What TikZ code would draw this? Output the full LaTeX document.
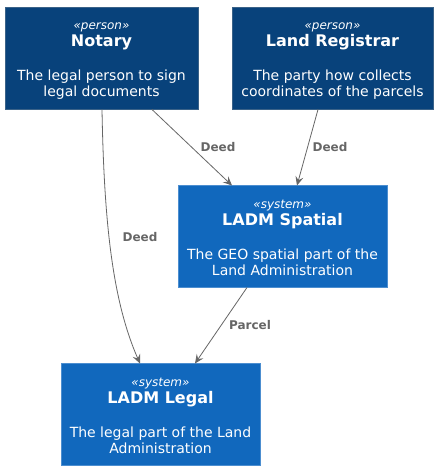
\documentclass[tikz,border=0pt]{standalone}
\usepackage{fontspec}
\setmainfont{DejaVu Sans}
\usetikzlibrary{arrows.meta}
\definecolor{persfill}{HTML}{08427B}
\definecolor{persline}{HTML}{3A6288}
\definecolor{sysfill}{HTML}{1168BD}
\definecolor{sysline}{HTML}{4C8ED0}
\definecolor{relcol}{HTML}{666666}
\tikzset{
  x=1pt,y=1pt,
  box/.style={rectangle, minimum height=102pt, inner sep=0pt, align=center, text=white, line width=0.6pt,
    font=\fontsize{14}{16}\selectfont},
  personbox/.style={box, fill=persfill, draw=persline},
  sysbox/.style={box, fill=sysfill, draw=sysline},
  rel/.style={draw=relcol, line width=0.8pt, -{Stealth[length=9pt,width=8pt,inset=3.5pt]}},
  rellabel/.style={text=relcol, font=\fontsize{12}{14}\selectfont\bfseries, inner sep=0pt}
}
\newcommand{\stereo}[1]{{\rule{0pt}{11pt}\fontsize{12}{14}\selectfont\itshape «#1»}}
\newcommand{\ttl}[1]{{\fontsize{16}{16}\selectfont\bfseries #1}}
\begin{document}
\begin{tikzpicture}
\useasboundingbox (0,0) rectangle (442,-475);
\fill[white] (0,0) rectangle (442,-475);
\node[personbox, minimum width=193pt] (notary) at (101.5,-58.5)
  {\stereo{person}\\[1pt]\ttl{Notary}\\[18pt]The legal person to sign\\legal documents};
\node[personbox, minimum width=201pt] (registrar) at (332.5,-58.5)
  {\stereo{person}\\[1pt]\ttl{Land Registrar}\\[18pt]The party how collects\\coordinates of the parcels};
\node[sysbox, minimum width=209pt] (spatial) at (282.5,-236.5)
  {\stereo{system}\\[1pt]\ttl{LADM Spatial}\\[18pt]The GEO spatial part of the\\Land Administration};
\node[sysbox, minimum width=199pt] (legal) at (160.5,-414.5)
  {\stereo{system}\\[1pt]\ttl{LADM Legal}\\[18pt]The legal part of the Land\\Administration};

\coordinate (n1) at (152,-109.5);
\coordinate (s1) at (232,-185.5);
\draw[rel] (n1) -- (s1);
\node[rellabel] (l1) at (218,-147) {Deed};

\coordinate (r1) at (318,-109.5);
\coordinate (s2) at (297,-185.5);
\draw[rel] (r1) -- (s2);
\node[rellabel] (l2) at (330,-147) {Deed};

\coordinate (n2) at (102,-109.5);
\coordinate (g1) at (140,-363.5);
\draw[rel] (n2) .. controls (104,-220) and (112,-300) .. (g1);
\node[rellabel] (l3) at (140,-237) {Deed};

\coordinate (s3) at (247,-287.5);
\coordinate (g2) at (195,-363.5);
\draw[rel] (s3) -- (g2);
\node[rellabel] (l4) at (250,-325) {Parcel};
\end{tikzpicture}
\end{document}
